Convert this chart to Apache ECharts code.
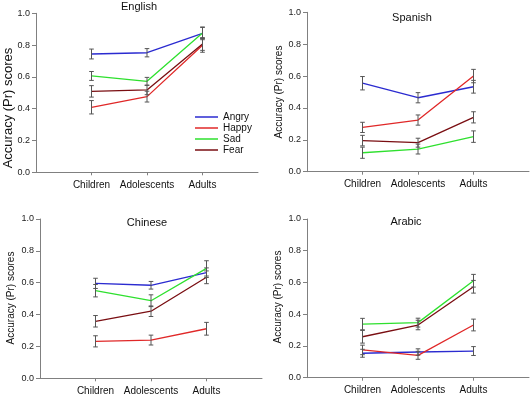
<!DOCTYPE html>
<html>
<head>
<meta charset="utf-8">
<script src="https://cdn.jsdelivr.net/npm/echarts@6/dist/echarts.min.js"></script>
<style>
  html, body { margin: 0; padding: 0; background: #fff; }
  #chart { width: 532px; height: 399px; }
</style>
</head>
<body>
<div id="chart"></div>
<script>
var categories = ['', 'Children', 'Adolescents', 'Adults', ''];
var emotions = ['Angry', 'Happy', 'Sad', 'Fear'];
var colors = ['#2b2bd0', '#e02828', '#2ee02e', '#7a0e12'];
var yTicks = [0, 0.2, 0.4, 0.6, 0.8, 1.0];

// rows follow emotions: Angry, Happy, Sad, Fear
var englishMean = [[0.744, 0.752, 0.874], [0.409, 0.476, 0.799], [0.606, 0.572, 0.876], [0.509, 0.518, 0.807]];
var englishErr  = [[0.031, 0.026, 0.040], [0.042, 0.034, 0.044], [0.028, 0.025, 0.035], [0.036, 0.030, 0.040]];

var spanishMean = [[0.555, 0.464, 0.533], [0.278, 0.324, 0.600], [0.119, 0.142, 0.220], [0.195, 0.182, 0.341]];
var spanishErr  = [[0.042, 0.032, 0.040], [0.032, 0.032, 0.042], [0.035, 0.031, 0.036], [0.033, 0.028, 0.035]];

var chineseMean = [[0.596, 0.584, 0.663], [0.232, 0.240, 0.311], [0.550, 0.487, 0.690], [0.358, 0.421, 0.634]];
var chineseErr  = [[0.032, 0.024, 0.030], [0.035, 0.031, 0.040], [0.039, 0.037, 0.048], [0.036, 0.033, 0.040]];

var arabicMean = [[0.154, 0.162, 0.168], [0.175, 0.141, 0.332], [0.338, 0.347, 0.611], [0.258, 0.332, 0.573]];
var arabicErr  = [[0.025, 0.020, 0.028], [0.030, 0.025, 0.037], [0.036, 0.028, 0.040], [0.040, 0.030, 0.040]];

var panels = [
  { title: 'English', mean: englishMean, err: englishErr, grid: { left: 36, top: 13.3, width: 222, height: 159 },
    titlePos: [139, 7], namePos: [8, 108], nameSize: 13 },
  { title: 'Spanish', mean: spanishMean, err: spanishErr, grid: { left: 307, top: 12.3, width: 222, height: 159.4 },
    titlePos: [412, 18], namePos: [279, 92], nameSize: 10 },
  { title: 'Chinese', mean: chineseMean, err: chineseErr, grid: { left: 40, top: 219, width: 222, height: 159.3 },
    titlePos: [147, 223], namePos: [11, 298], nameSize: 10 },
  { title: 'Arabic', mean: arabicMean, err: arabicErr, grid: { left: 307, top: 219, width: 222, height: 158.7 },
    titlePos: [406, 222], namePos: [278, 297], nameSize: 10 }
];

var font = 'Liberation Sans, Arial, sans-serif';
var chart = echarts.init(document.getElementById('chart'));

var grids = [], xAxes = [], yAxes = [], series = [], graphics = [];

panels.forEach(function (p, i) {
  grids.push(p.grid);
  xAxes.push({
    type: 'category', gridIndex: i, data: categories, boundaryGap: false,
    axisLine: { lineStyle: { color: '#808080', width: 1 } },
    axisTick: { length: 3, lineStyle: { color: '#808080' },
      interval: function (idx) { return idx > 0 && idx < 4; } },
    axisLabel: { interval: 0, margin: 8, fontSize: 10, color: '#111', fontFamily: font },
    splitLine: { show: false }
  });
  yAxes.push({
    type: 'value', gridIndex: i, min: 0, max: 1, interval: 0.2,
    axisLine: { show: true, lineStyle: { color: '#808080', width: 1 } },
    axisTick: { show: true, length: 4, lineStyle: { color: '#808080' } },
    axisLabel: { margin: 6, fontSize: 9, color: '#222', fontFamily: font,
      formatter: function (v) { return v.toFixed(1); } },
    splitLine: { show: false }
  });

  p.mean.forEach(function (row, k) {
    series.push({
      name: emotions[k], type: 'line', xAxisIndex: i, yAxisIndex: i,
      data: row.map(function (v, j) { return [j + 1, v]; }),
      symbol: 'none', lineStyle: { color: colors[k], width: 1.3 },
      itemStyle: { color: colors[k] }, z: 2, silent: true
    });
  });

  var errData = [];
  p.mean.forEach(function (row, k) {
    row.forEach(function (v, j) {
      errData.push([j + 1, v - p.err[k][j], v + p.err[k][j]]);
    });
  });
  series.push({
    type: 'custom', xAxisIndex: i, yAxisIndex: i, z: 3, silent: true,
    data: errData,
    renderItem: function (params, api) {
      var lo = api.coord([api.value(0), api.value(1)]);
      var hi = api.coord([api.value(0), api.value(2)]);
      var c = 2.3;
      var st = { stroke: '#555', lineWidth: 1 };
      return { type: 'group', children: [
        { type: 'line', shape: { x1: lo[0], y1: lo[1], x2: hi[0], y2: hi[1] }, style: st },
        { type: 'line', shape: { x1: lo[0] - c, y1: lo[1], x2: lo[0] + c, y2: lo[1] }, style: st },
        { type: 'line', shape: { x1: hi[0] - c, y1: hi[1], x2: hi[0] + c, y2: hi[1] }, style: st }
      ] };
    }
  });

  graphics.push({
    type: 'text', x: p.titlePos[0], y: p.titlePos[1],
    style: { text: p.title, fontSize: 11, fontFamily: font, fill: '#111', align: 'center', verticalAlign: 'middle' }
  });
  graphics.push({
    type: 'text', x: p.namePos[0], y: p.namePos[1], rotation: Math.PI / 2,
    style: { text: 'Accuracy (Pr) scores', fontSize: p.nameSize, fontFamily: font, fill: '#111',
      align: 'center', verticalAlign: 'middle' }
  });
});

var option = {
  animation: false,
  backgroundColor: '#fff',
  grid: grids,
  xAxis: xAxes,
  yAxis: yAxes,
  legend: {
    data: emotions, orient: 'vertical', left: 190, top: 106.5,
    icon: 'rect', itemWidth: 23, itemHeight: 1.5, itemGap: 0,
    textStyle: { fontSize: 10, lineHeight: 11, fontFamily: font, color: '#111' },
    selectedMode: false
  },
  series: series,
  graphic: graphics
};

chart.setOption(option);
</script>
</body>
</html>
